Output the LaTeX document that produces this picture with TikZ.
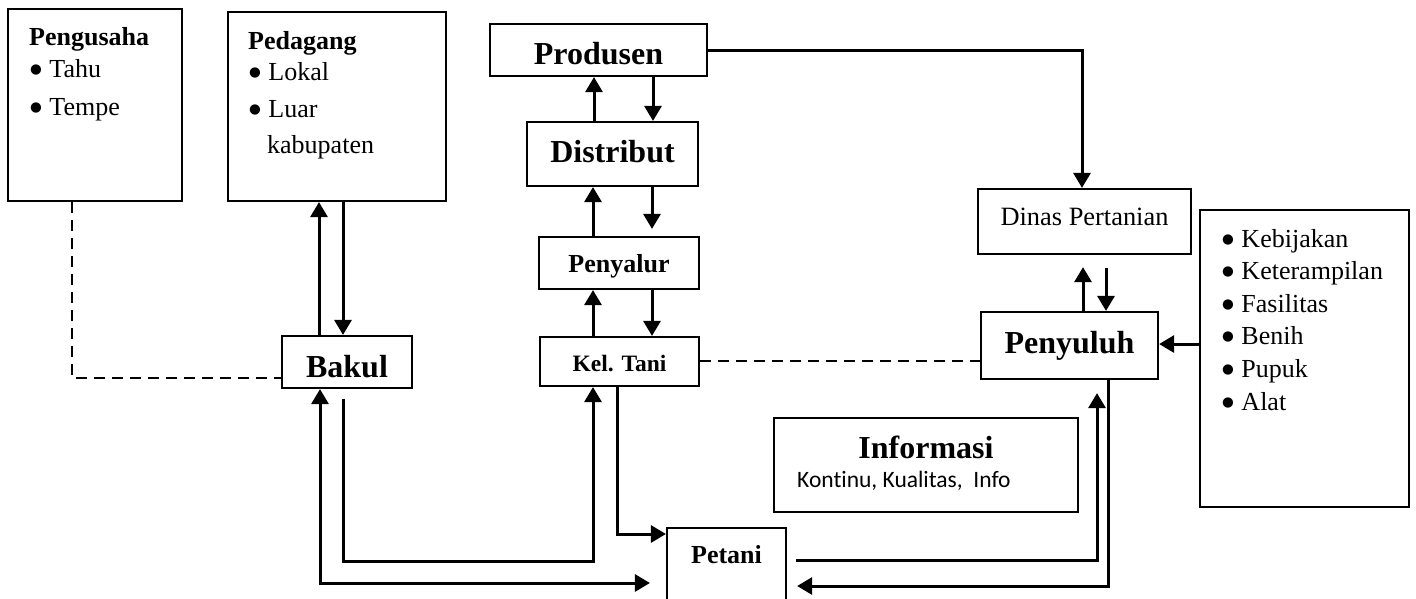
\documentclass[tikz,border=0pt]{standalone}
\usepackage{fontspec}
\setmainfont{Liberation Serif}
\newfontfamily\calibri[Ligatures=NoCommon]{Carlito}
\newfontfamily\dejavu{DejaVu Sans}
\usetikzlibrary{arrows.meta}
\newcommand{\fs}[1]{\fontsize{#1}{#1}\selectfont}
\newcommand{\bul}{\raisebox{3.5pt}{\dejavu\fs{13.5}●}\hspace{7.5pt}}

\begin{document}
\begin{tikzpicture}[x=1pt,y=-1pt,
  box/.style={draw, line width=2.2pt, inner sep=0pt, text depth=0pt},
  arr/.style={line width=3pt, -{Triangle[length=15pt,width=17pt]}},
  arrboth/.style={line width=3pt, {Triangle[length=15pt,width=17pt]}-{Triangle[length=15pt,width=17pt]}},
  link/.style={line width=2.6pt, dash pattern=on 11pt off 7pt},
  txt/.style={anchor=base west, inner sep=0pt, font=\fs{26}},
  head/.style={anchor=base west, inner sep=0pt, font=\fs{26}\bfseries}]
\useasboundingbox[fill=white] (0,0) rectangle (1416,598);

% boxes with bullet lists
\node[box, minimum width=174pt, minimum height=192pt] (pengusaha) at (95,105) {};
\node[head] (pengusaha-h) at (29,45) {Pengusaha};
\node[txt] (tahu) at (30,77) {\bul Tahu};
\node[txt] (tempe) at (30,115) {\bul Tempe};

\node[box, minimum width=218pt, minimum height=189pt] (pedagang) at (337,106.5) {};
\node[head] (pedagang-h) at (248,49) {Pedagang};
\node[txt] (lokal) at (249,80) {\bul Lokal};
\node[txt] (luar) at (249,117) {\bul Luar};
\node[txt] (kab) at (267,153) {kabupaten};

\node[box, minimum width=209pt, minimum height=297pt] (list) at (1304.5,358.5) {};
\node[txt] (i1) at (1222,247) {\bul Kebijakan};
\node[txt] (i2) at (1222,279) {\bul Keterampilan};
\node[txt] (i3) at (1222,312) {\bul Fasilitas};
\node[txt] (i4) at (1222,344) {\bul Benih};
\node[txt] (i5) at (1222,377) {\bul Pupuk};
\node[txt] (i6) at (1222,410) {\bul Alat};

% supply chain
\node[box, minimum width=217pt, minimum height=52pt, text height=28pt, font=\fs{32}\bfseries] (produsen) at (598.5,50) {Produsen};
\node[box, minimum width=171pt, minimum height=64pt, text height=16pt, font=\fs{32}\bfseries] (distribut) at (612.5,154) {Distribut};
\node[box, minimum width=160pt, minimum height=52pt, text height=18pt, font=\fs{26}\bfseries] (penyalur) at (619,263) {Penyalur};
\node[box, minimum width=159pt, minimum height=49pt, text height=19pt, font=\fs{23.5}\bfseries] (keltani) at (619.5,361.5) {Kel. Tani};
\node[box, minimum width=130pt, minimum height=52pt, text height=30pt, font=\fs{32}\bfseries] (bakul) at (347,362) {Bakul};
\node[box, minimum width=119pt, minimum height=72pt, text height=0pt, text depth=2pt, font=\fs{26}\bfseries] (petani) at (726.5,564) {Petani};

% extension side
\node[box, minimum width=213pt, minimum height=65pt, text height=7pt, font=\fs{26.4}] (dinas) at (1084.5,221.5) {Dinas Pertanian};
\node[box, minimum width=177pt, minimum height=67pt, text height=15pt, font=\fs{32}\bfseries] (penyuluh) at (1069.5,345.5) {Penyuluh};

\node[box, minimum width=304pt, minimum height=94pt] (info) at (926,465) {};
\node[anchor=base, inner sep=0pt, font=\fs{32}\bfseries] (info-h) at (926,458) {Informasi};
\node[anchor=base west, inner sep=0pt, font=\calibri\fs{23.5}] (info-t) at (797,487) {Kontinu, Kualitas,~~Info};

% connectors along the chain
\draw[arr] (distribut.north -| 594,0) -- (produsen.south -| 594,0);
\draw[arr] (produsen.south -| 653,0) -- (distribut.north -| 653,0);
\draw[arr] (penyalur.north -| 593,0) -- (distribut.south -| 593,0);
\draw[arr, shorten >=7pt] (distribut.south -| 652,0) -- (penyalur.north -| 652,0);
\draw[arr] (keltani.north -| 593,0) -- (penyalur.south -| 593,0);
\draw[arr] (penyalur.south -| 652,0) -- (keltani.north -| 652,0);

\draw[link] (keltani.east |- 0,361) -- (penyuluh.west |- 0,361);
\draw[link] (pengusaha.south -| 72,0) |- (bakul.west |- 0,378);

\draw[arr] (produsen.east) -| (dinas.north -| 1082,0);
\draw[arr, shorten >=12pt] (penyuluh.north -| 1083,0) -- (dinas.south -| 1083,0);
\draw[arr, shorten <=13pt] (dinas.south -| 1106,0) -- (penyuluh.north -| 1106,0);
\draw[arr] (list.west |- 0,344) -- (penyuluh.east |- 0,344);

\draw[arr] (bakul.north -| 319,0) -- (pedagang.south -| 319,0);
\draw[arr] (pedagang.south -| 343,0) -- (bakul.north -| 343,0);

\draw[arrboth, shorten >=16pt] (bakul.south -| 320,0) |- (petani.west |- 0,583);
\draw[arr, shorten <=10pt] (bakul.south -| 343,0) -- ++(0,172) -| (keltani.south -| 593,0);
\draw[arr] (keltani.south -| 617,0) |- (petani.west |- 0,534);
\draw[arr, shorten <=9pt, shorten >=13pt] (petani.east |- 0,560) -| (penyuluh.south -| 1097,0);
\draw[arr, shorten >=10pt] (penyuluh.south -| 1108,0) |- (petani.east |- 0,586);
\end{tikzpicture}
\end{document}
